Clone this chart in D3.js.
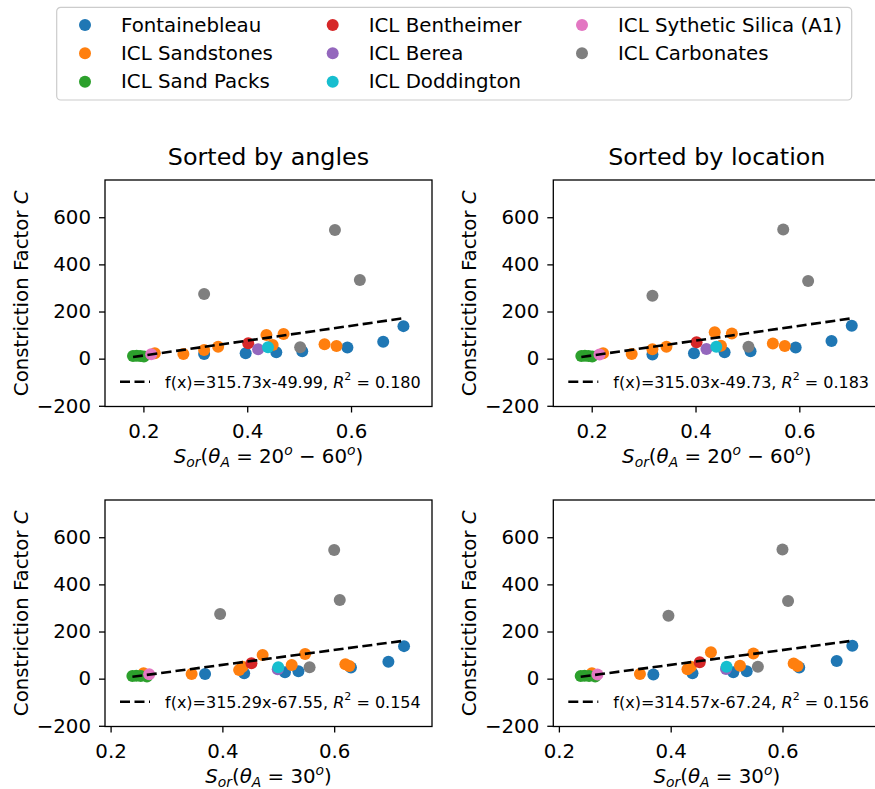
<!DOCTYPE html>
<html>
<head>
<meta charset="utf-8">
<script src="https://cdn.jsdelivr.net/npm/d3@7"></script>
<style>
  body { margin: 0; background: #fff; }
  #svg-container svg { display: block; font-family: "DejaVu Sans", sans-serif; }
</style>
</head>
<body>
<div id="svg-container"></div>
<script>
////////////////////////////////////////////////////////////////////
////////////////////////////  Data  ////////////////////////////////

const groupNames = [
  "Fontainebleau", "ICL Sandstones", "ICL Sand Packs", "ICL Bentheimer",
  "ICL Berea", "ICL Doddington", "ICL Sythetic Silica (A1)", "ICL Carbonates"
];
const groupColors = ["#1f77b4", "#ff7f0e", "#2ca02c", "#d62728", "#9467bd", "#17becf", "#e377c2", "#7f7f7f"];

// one entry per sample, samples listed group by group
const sampleGroup = [0, 0, 0, 0, 0, 0, 0, 1, 1, 1, 1, 1, 1, 1, 1, 1, 2, 2, 2, 2, 3, 4, 5, 6, 7, 7, 7, 7];
const sor2060 = [0.317, 0.397, 0.456, 0.506, 0.593, 0.662, 0.701,
  0.222, 0.277, 0.317, 0.344, 0.437, 0.449, 0.470, 0.549, 0.572,
  0.180, 0.187, 0.194, 0.201,
  0.402, 0.421, 0.440, 0.215,
  0.317, 0.502, 0.569, 0.617];
const sor30 = [0.369, 0.439, 0.512, 0.536, 0.630, 0.697, 0.725,
  0.259, 0.345, 0.430, 0.436, 0.472, 0.524, 0.548, 0.620, 0.627,
  0.239, 0.246, 0.254, 0.265,
  0.452, 0.499, 0.500, 0.269,
  0.396, 0.556, 0.600, 0.610];
const cByAngles = [20, 23, 27, 31, 47, 72, 138,
  23, 20, 37, 51, 100, 58, 105, 61, 54,
  11, 12, 11, 9,
  65, 40, 48, 19,
  274, 48, 546, 334];
const cByLocation = [18, 23, 27, 31, 47, 75, 140,
  23, 20, 40, 51, 112, 55, 107, 64, 54,
  11, 12, 11, 9,
  70, 41, 51, 18,
  267, 51, 548, 329];

const panelTitles = ["Sorted by angles", "Sorted by location"];
const fitSlope = [315.73, 315.03, 315.29, 314.57];
const fitIntercept = [-49.99, -49.73, -67.55, -67.24];
const fitR2 = ["0.180", "0.183", "0.154", "0.156"];
const xTicks = [0.2, 0.4, 0.6];
const yTicks = [-200, 0, 200, 400, 600];

////////////////////////////////////////////////////////////////////
////////////////////////////  Init  ////////////////////////////////

const width = 875;
const height = 789;

const svg = d3.select("#svg-container").append("svg")
  .attr("width", width)
  .attr("height", height);

const axLeft = [105, 553.3];
const axTop = [180, 500];
const axW = 327;
const axH = 226.5;
const xDomains = [[0.126, 0.756], [0.19, 0.775]];
const yDomain = [-203, 758];
const fontSize = 19.8;

////////////////////////////////////////////////////////////////////
////////////////////////////  Legend  //////////////////////////////

const legend = svg.append("g").attr("class", "legend");
legend.append("rect")
  .attr("x", 56.7).attr("y", 7.3)
  .attr("width", 795).attr("height", 92.7)
  .attr("rx", 4)
  .attr("fill", "#fff")
  .attr("stroke", "#cccccc")
  .attr("stroke-width", 1.2);

const legendColX = [85, 332.7, 582];
const legendRowY = [25, 53.3, 81.7];

groupNames.forEach((name, i) => {
  const cx = legendColX[Math.floor(i / 3)];
  const cy = legendRowY[i % 3];
  legend.append("circle")
    .attr("cx", cx).attr("cy", cy).attr("r", 6)
    .attr("fill", groupColors[i]);
  legend.append("text")
    .attr("x", cx + 36).attr("y", cy)
    .attr("dominant-baseline", "central")
    .attr("font-size", fontSize)
    .text(name);
});

////////////////////////////////////////////////////////////////////
////////////////////////////  Panels  //////////////////////////////

function addXLabel(g, row) {
  const t = g.append("text")
    .attr("x", axW / 2)
    .attr("y", axH + 56.5)
    .attr("text-anchor", "middle")
    .attr("font-size", fontSize);
  const small = fontSize * 0.7;
  t.append("tspan").attr("font-style", "italic").text("S");
  t.append("tspan").attr("font-style", "italic").attr("font-size", small).attr("dy", 4).text("or");
  t.append("tspan").attr("dy", -4).text("(");
  t.append("tspan").attr("font-style", "italic").text("θ");
  t.append("tspan").attr("font-style", "italic").attr("font-size", small).attr("dy", 4).text("A");
  if (row === 0) {
    t.append("tspan").attr("dy", -4).text(" = 20");
    t.append("tspan").attr("font-style", "italic").attr("font-size", small).attr("dy", -8).text("o");
    t.append("tspan").attr("dy", 8).text(" − 60");
    t.append("tspan").attr("font-style", "italic").attr("font-size", small).attr("dy", -8).text("o");
    t.append("tspan").attr("dy", 8).text(")");
  } else {
    t.append("tspan").attr("dy", -4).text(" = 30");
    t.append("tspan").attr("font-style", "italic").attr("font-size", small).attr("dy", -8).text("o");
    t.append("tspan").attr("dy", 8).text(")");
  }
}

for (let row = 0; row < 2; row++) {
  for (let col = 0; col < 2; col++) {
    const p = row * 2 + col;
    const xs = row === 0 ? sor2060 : sor30;
    const ys = col === 0 ? cByAngles : cByLocation;

    const g = svg.append("g")
      .attr("transform", `translate(${axLeft[col]}, ${axTop[row]})`);

    // scale
    const xScale = d3.scaleLinear().domain(xDomains[row]).range([0, axW]);
    const yScale = d3.scaleLinear().domain(yDomain).range([axH, 0]);

    // axis
    const xAxis = d3.axisBottom(xScale)
      .tickValues(xTicks)
      .tickFormat(d3.format(".1f"))
      .tickSize(6).tickPadding(11).tickSizeOuter(0);
    const yAxis = d3.axisLeft(yScale)
      .tickValues(yTicks)
      .tickFormat(d3.format("d"))
      .tickSize(6).tickPadding(8).tickSizeOuter(0);

    const gx = g.append("g")
      .attr("transform", `translate(0, ${axH})`)
      .call(xAxis);
    const gy = g.append("g").call(yAxis);

    [gx, gy].forEach((a) => {
      a.select(".domain").remove();
      a.selectAll(".tick line").attr("stroke", "#000").attr("stroke-width", 1.3);
      a.selectAll(".tick text")
        .attr("font-size", fontSize)
        .attr("font-family", "DejaVu Sans, sans-serif")
        .attr("fill", "#000");
    });

    // points
    g.append("g")
      .selectAll("circle")
      .data(xs.map((x, i) => ({ x: x, c: ys[i], grp: sampleGroup[i] })))
      .join("circle")
      .attr("cx", (d) => xScale(d.x))
      .attr("cy", (d) => yScale(d.c))
      .attr("r", 6)
      .attr("fill", (d) => groupColors[d.grp]);

    // fit line
    const ext = d3.extent(xs);
    const line = d3.line()
      .x((d) => xScale(d))
      .y((d) => yScale(fitSlope[p] * d + fitIntercept[p]));
    g.append("path")
      .datum(ext)
      .attr("d", line)
      .attr("fill", "none")
      .attr("stroke", "#000")
      .attr("stroke-width", 2.6)
      .attr("stroke-dasharray", "10,4.5");

    // fit legend
    const ly = 201.7;
    g.append("line")
      .attr("x1", 15).attr("x2", 45)
      .attr("y1", ly).attr("y2", ly)
      .attr("stroke", "#000")
      .attr("stroke-width", 2.6)
      .attr("stroke-dasharray", "10,4.5");
    const ft = g.append("text")
      .attr("x", 60).attr("y", ly)
      .attr("dominant-baseline", "central")
      .attr("font-size", 16);
    ft.append("tspan").text(`f(x)=${fitSlope[p].toFixed(2)}x${fitIntercept[p].toFixed(2)}, `);
    ft.append("tspan").attr("font-style", "italic").text("R");
    ft.append("tspan").attr("font-size", 11).attr("dy", -6).text("2");
    ft.append("tspan").attr("dy", 6).text(` = ${fitR2[p]}`);

    // frame
    g.append("rect")
      .attr("width", axW).attr("height", axH)
      .attr("fill", "none")
      .attr("stroke", "#000")
      .attr("stroke-width", 1.3);

    // title
    if (row === 0) {
      g.append("text")
        .attr("x", axW / 2).attr("y", -15)
        .attr("text-anchor", "middle")
        .attr("font-size", 23.8)
        .text(panelTitles[col]);
    }

    // y label
    const yl = g.append("text")
      .attr("transform", `translate(${-84}, ${axH / 2}) rotate(-90)`)
      .attr("text-anchor", "middle")
      .attr("dominant-baseline", "central")
      .attr("font-size", fontSize);
    yl.append("tspan").text("Constriction Factor ");
    yl.append("tspan").attr("font-style", "italic").text("C");

    addXLabel(g, row);
  }
}
</script>
</body>
</html>
